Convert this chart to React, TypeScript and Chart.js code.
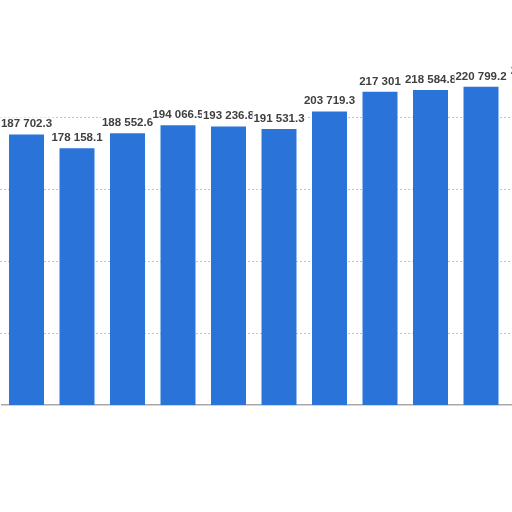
import React, { useEffect, useRef } from "react";
import Chart, { ChartConfiguration, Plugin } from "chart.js/auto";

const years = ["2012", "2013", "2014", "2015", "2016", "2017", "2018", "2019", "2020", "2021", "2022"];
const values = [187702.3, 178158.1, 188552.6, 194066.5, 193236.8, 191531.3, 203719.3, 217301, 218584.8, 220799.2, 224500.0];
const gridValues = [50000, 100000, 150000, 200000];
const yMax = 230000;

const formatValue = (v: number) => {
  const s = Number.isInteger(v) ? v.toFixed(0) : v.toFixed(1);
  const [int, dec] = s.split(".");
  const grouped = int.replace(/\B(?=(\d{3})+(?!\d))/g, " ");
  return dec ? grouped + "." + dec : grouped;
};

// dotted horizontal gridlines, placed with the y scale
const dottedGrid: Plugin<"bar"> = {
  id: "dottedGrid",
  beforeDatasetsDraw(chart) {
    const { ctx, chartArea, scales } = chart;
    ctx.save();
    ctx.strokeStyle = "#c4c4c4";
    ctx.lineWidth = 1;
    ctx.setLineDash([2, 2]);
    gridValues.forEach((v) => {
      const y = Math.round(scales.y.getPixelForValue(v)) + 0.5;
      ctx.beginPath();
      ctx.moveTo(0, y);
      ctx.lineTo(chartArea.right, y);
      ctx.stroke();
    });
    ctx.restore();
  },
};

// labels with a white box behind them, later ones cover earlier ones
const barLabels: Plugin<"bar"> = {
  id: "barLabels",
  afterDatasetsDraw(chart) {
    const ctx = chart.ctx;
    const meta = chart.getDatasetMeta(0);
    ctx.save();
    ctx.font = "bold 11.5px 'Liberation Sans', Arial, sans-serif";
    ctx.textAlign = "center";
    ctx.textBaseline = "alphabetic";
    meta.data.forEach((bar, i) => {
      const text = formatValue(values[i]);
      const w = ctx.measureText(text).width;
      const x = bar.x;
      const y = bar.y - 7;
      ctx.fillStyle = "#ffffff";
      ctx.fillRect(x - w / 2 - 1, y - 10, w + 2, 13);
      ctx.fillStyle = "#404040";
      ctx.fillText(text, x, y);
    });
    ctx.restore();
  },
};

const BarChart = () => {
  const chartRef = useRef<HTMLCanvasElement>(null);

  useEffect(() => {
    let chart: Chart<"bar"> | null = null;
    if (chartRef.current) {
      const config: ChartConfiguration<"bar"> = {
        type: "bar",
        data: {
          labels: years,
          datasets: [
            {
              data: values,
              backgroundColor: "#2a74d9",
              barPercentage: 0.8,
              categoryPercentage: 0.866,
            },
          ],
        },
        options: {
          animation: false,
          responsive: true,
          maintainAspectRatio: false,
          layout: { padding: { left: 1.25, right: 3.25, top: 73.5, bottom: 99 } },
          plugins: { legend: { display: false }, tooltip: { enabled: false } },
          scales: {
            x: {
              ticks: { display: false },
              grid: { display: false },
              border: { color: "#a8a8a8", width: 1.5 },
            },
            y: {
              display: false,
              min: 0,
              max: yMax,
            },
          },
        },
        plugins: [dottedGrid, barLabels],
      };
      chart = new Chart(chartRef.current, config);
    }
    return () => {
      if (chart) chart.destroy();
    };
  }, []);

  return <canvas ref={chartRef} />;
};

export default function App() {
  return (
    <div style={{ position: "fixed", left: 0, top: 0, width: 512, height: 512, overflow: "hidden", background: "#fff" }}>
      <div style={{ position: "absolute", left: 0, top: 0, width: 560, height: 512 }}>
        <BarChart />
      </div>
    </div>
  );
}
